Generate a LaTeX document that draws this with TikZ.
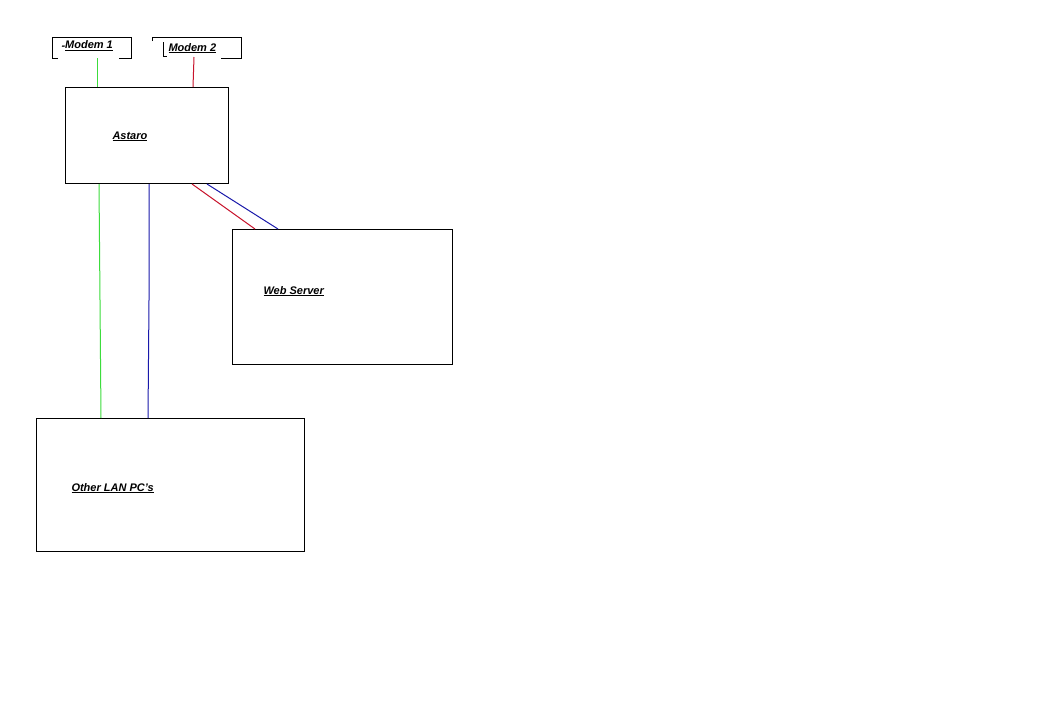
\documentclass[tikz,border=0pt]{standalone}
\usepackage{fontspec}
\setmainfont{Liberation Sans}
\usetikzlibrary{calc}
\definecolor{lngreen}{RGB}{60,220,60}
\definecolor{lnred}{RGB}{200,20,45}
\definecolor{lnblue}{RGB}{25,25,170}

\begin{document}
\begin{tikzpicture} [x = 1pt, y = -1pt, line width = 1pt,
  box/.style = {draw, anchor = north west, inner sep = 0pt},
  frame/.style = {anchor = north west, inner sep = 0pt},
  lbl/.style = {anchor = base west, inner sep = 0pt, font = \fontsize{11}{13}\selectfont\bfseries\itshape}]
\fill[white] (0,0) rectangle (1048,723);
\node[frame, minimum width = 78pt, minimum height = 20pt](modem1) at (52,37) {};
\node[frame, minimum width = 88pt, minimum height = 20pt](modem2) at (152,37) {};
\node[box, minimum width = 163pt, minimum height = 96pt](astaro) at (65,87) {};
\node[box, minimum width = 220pt, minimum height = 135pt](web) at (232,229) {};
\node[box, minimum width = 268pt, minimum height = 133pt](lan) at (36,418) {};
\node[lbl](m1) at (61,48.5) {\raisebox{-0.8pt}{-}\underline{Modem 1}};
\node[lbl](m2) at (168,51) {\underline{Modem 2}};
\node[lbl](a1) at (112,139) {\underline{Astaro}};
\node[lbl](w1) at (263,294) {\underline{Web Server}};
\node[lbl](l1) at (71,491) {\underline{Other LAN PC's}};
% modem frames
\draw ($(modem1.south west)+(6,0)$) -- (modem1.south west) -- (modem1.north west) -- (modem1.north east) -- (modem1.south east) -- ++(-12,0);
\draw ($(modem2.north west)+(0,4)$) -- (modem2.north west) -- (modem2.north east) -- (modem2.south east) -- ++(-20,0);
\draw ($(modem2.north west)+(11,5)$) -- ($(modem2.south west)+(11,-2)$) -- ++(4,0);
% links
\coordinate (gbend) at (100,300);
\coordinate (bbend) at (149,300);
\draw [lngreen] ($(modem1.south west)+(45,0)$) -- ($(astaro.north west)+(32,0)$);
\draw [lnred] ($(modem2.south west)+(42,-1)$) -- ($(astaro.north west)+(128,0)$);
\draw [lngreen] ($(astaro.south west)+(34,0)$) -- (gbend) -- ($(lan.north west)+(65,0)$);
\draw [lnblue] ($(astaro.south west)+(84,0)$) -- (bbend) -- ($(lan.north west)+(112,0)$);
\draw [lnred] ($(astaro.south west)+(127,0)$) -- ($(web.north west)+(23,0)$);
\draw [lnblue] ($(astaro.south west)+(142,0)$) -- ($(web.north west)+(46,0)$);
\end{tikzpicture}
\end{document}
